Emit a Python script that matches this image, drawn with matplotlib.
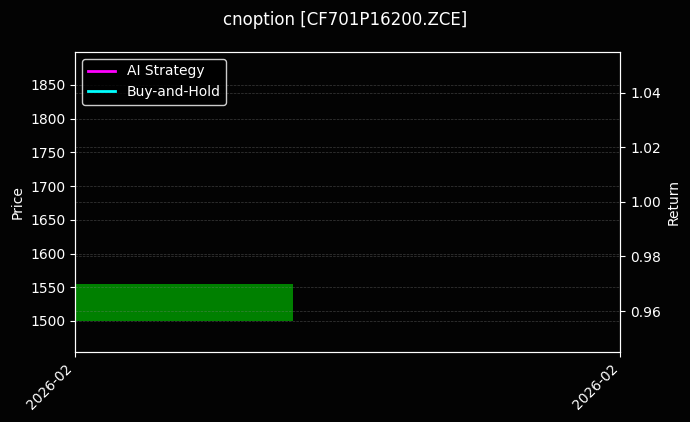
import matplotlib
matplotlib.use("Agg")
import matplotlib.pyplot as plt
import matplotlib.dates as mdates
import pandas as pd

# data (one trading day only)
dates = pd.to_datetime(["2026-02-10"])
open_px = [1500]
close_px = [1555]
ai_return = [1.0]
bh_return = [1.0]
ticker = "CF701P16200.ZCE"

plt.style.use("dark_background")
fig, ax = plt.subplots(figsize=(6.9, 4.22), dpi=100)
fig.patch.set_facecolor("#030303")
ax.set_facecolor("#030303")

x = mdates.date2num(dates)
width = 0.6

# candle body
for xi, o, c in zip(x, open_px, close_px):
    color = "green" if c >= o else "red"
    ax.bar(xi, abs(c - o), bottom=min(o, c), width=width, color=color)

ax.set_ylim(1454, 1899)
ax.set_xlim(x[0] - width / 2, x[0] - width / 2 + 1.5)
ax.set_ylabel("Price")
ax.grid(True, linestyle="--", linewidth=0.5, color="gray", alpha=0.45)

# returns on the right axis
ax2 = ax.twinx()
ax2.plot(x, ai_return, color="magenta", linewidth=2, label="AI Strategy")
ax2.plot(x, bh_return, color="cyan", linewidth=2, label="Buy-and-Hold")
ax2.set_ylim(0.945, 1.055)
ax2.set_ylabel("Return")
ax2.grid(True, linestyle="--", linewidth=0.5, color="gray", alpha=0.45)

lo, hi = ax.get_xlim()
ax.set_xticks([lo, hi])
ax.xaxis.set_major_formatter(mdates.DateFormatter("%Y-%m"))
plt.setp(ax.get_xticklabels(), rotation=45, ha="right")

leg = ax2.legend(loc="upper left", facecolor="black", edgecolor="white")

fig.suptitle(f"cnoption [{ticker}]", fontsize=12, y=0.975)
fig.subplots_adjust(left=0.109, right=0.899, top=0.877, bottom=0.166)
fig.savefig("out.png", facecolor=fig.get_facecolor())
